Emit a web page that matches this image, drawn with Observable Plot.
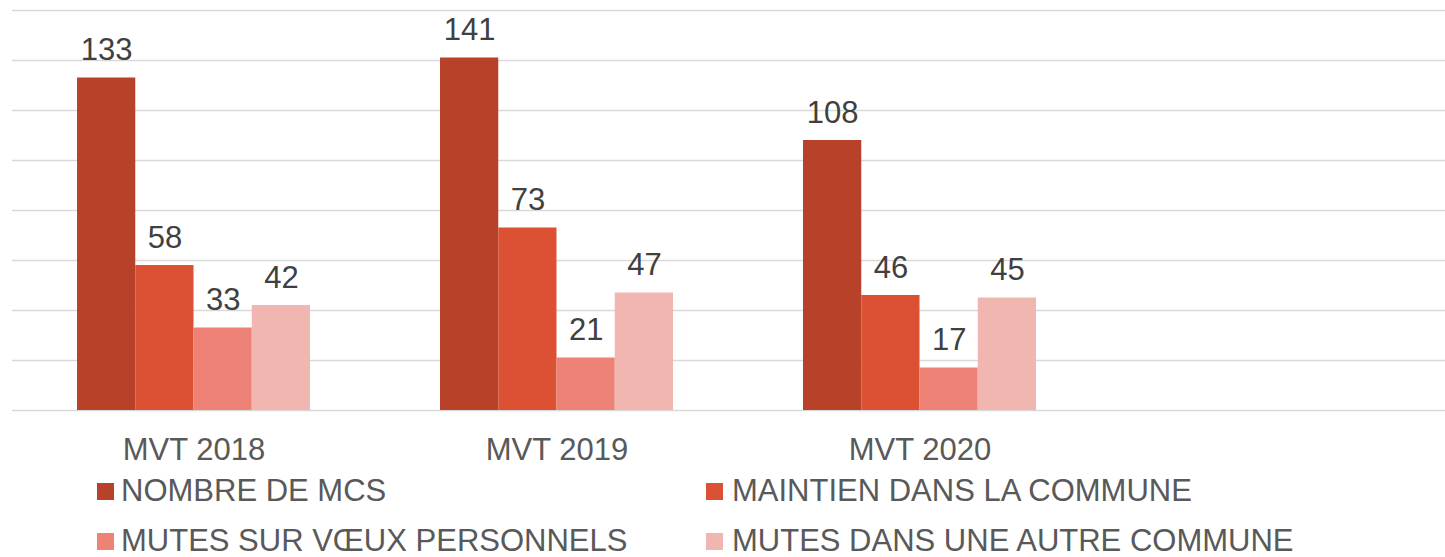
<!DOCTYPE html>
<html>
<head>
<meta charset="utf-8">
<script src="https://cdn.jsdelivr.net/npm/d3@7"></script>
<script src="https://cdn.jsdelivr.net/npm/@observablehq/plot@0.6"></script>
<style>
  html, body { margin: 0; padding: 0; background: #fff; }
  #wrap { position: relative; width: 1445px; height: 557px; overflow: hidden; font-family: "Liberation Sans", Arial, sans-serif; }
  .lg-sw { position: absolute; width: 17px; height: 17px; }
  .lg-tx { position: absolute; font-size: 31px; line-height: 31px; color: #595959; white-space: nowrap; }
</style>
</head>
<body>
<div id="wrap"></div>
<script>
// ---- data ----
const groups = ["MVT 2018", "MVT 2019", "MVT 2020"];
const slots = ["MVT 2018", "MVT 2019", "MVT 2020", ""]; // the original has an empty 4th category
const series = ["NOMBRE DE MCS", "MAINTIEN DANS LA COMMUNE", "MUTES SUR VŒUX PERSONNELS", "MUTES DANS UNE AUTRE COMMUNE"];
const nombreMCS = [133, 141, 108];
const maintien = [58, 73, 46];
const mutesVoeux = [33, 21, 17];
const mutesAutre = [42, 47, 45];
const colors = ["#B8412A", "#DC5033", "#EE8276", "#F2B6B1"];
const yTicks = [0, 20, 40, 60, 80, 100, 120, 140, 160];

const seriesValues = [nombreMCS, maintien, mutesVoeux, mutesAutre];
const rows = series.flatMap((s, i) => groups.map((g, j) => ({group: g, series: s, value: seriesValues[i][j]})));
const grid = slots.flatMap(g => yTicks.map(t => ({group: g, t})));

const chart = Plot.plot({
  width: 1464,
  height: 557,
  marginLeft: 12,
  marginRight: 0,
  marginTop: 10,
  marginBottom: 147,
  style: {maxWidth: "none", fontFamily: "'Liberation Sans', Arial, sans-serif", background: "#fff", overflow: "visible"},
  fx: {domain: slots, padding: 0, label: null, axis: null},
  x: {domain: series, paddingInner: 0, paddingOuter: 1.116, round: false, axis: null},
  y: {domain: [0, 160], axis: null},
  color: {domain: series, range: colors},
  marks: [
    Plot.ruleY(grid, {fx: "group", y: "t", stroke: "#D9D9D9", strokeWidth: 1.5}),
    Plot.barY(rows, {fx: "group", x: "series", y: "value", fill: "series"}),
    Plot.text(rows, {fx: "group", x: "series", y: "value", text: d => String(d.value), lineAnchor: "bottom", dy: -18, fontSize: 31, fill: "#404040"}),
    Plot.axisFx({anchor: "bottom", tickSize: 0, tickPadding: 27, fontSize: 31, color: "#595959", label: null})
  ]
});
const wrap = document.getElementById("wrap");
wrap.appendChild(chart);

// legend (HTML, below the plotting area)
const legendPos = [
  {sx: 97, tx: 121, top: 483},
  {sx: 706, tx: 732, top: 483},
  {sx: 97, tx: 121, top: 533},
  {sx: 706, tx: 732, top: 533}
];
series.forEach((s, i) => {
  const p = legendPos[i];
  const sw = document.createElement("div");
  sw.className = "lg-sw";
  sw.style.left = p.sx + "px";
  sw.style.top = p.top + "px";
  sw.style.background = colors[i];
  wrap.appendChild(sw);
  const tx = document.createElement("div");
  tx.className = "lg-tx";
  tx.style.left = p.tx + "px";
  tx.style.top = (p.top - 8) + "px";
  tx.textContent = s;
  wrap.appendChild(tx);
});
</script>
</body>
</html>
